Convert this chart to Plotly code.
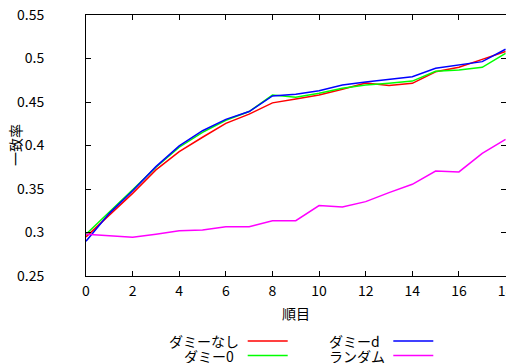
import plotly.graph_objects as go

x_vals = list(range(19))
names = ["ダミーなし", "ダミー0", "ダミーd", "ランダム"]
colors = ["#ff0000", "#00ff00", "#0000ff", "#ff00ff"]
s_none = [0.295, 0.320, 0.345, 0.372, 0.393, 0.4095, 0.4255, 0.436, 0.449, 0.4535,
          0.458, 0.4646, 0.4718, 0.4690, 0.4715, 0.4848, 0.4899, 0.499, 0.508]
s_zero = [0.298, 0.323, 0.349, 0.375, 0.398, 0.415, 0.429, 0.439, 0.458, 0.4554,
          0.460, 0.4657, 0.4695, 0.4715, 0.474, 0.4853, 0.4868, 0.4899, 0.506]
s_d = [0.290, 0.322, 0.348, 0.3757, 0.3995, 0.417, 0.430, 0.439, 0.457, 0.459,
       0.463, 0.4695, 0.473, 0.476, 0.479, 0.4887, 0.4925, 0.4964, 0.5106]
s_rand = [0.298, 0.296, 0.2945, 0.298, 0.302, 0.303, 0.3067, 0.3067, 0.3136, 0.3136,
          0.331, 0.3294, 0.3355, 0.3458, 0.3554, 0.3707, 0.3696, 0.391, 0.407]
series = [s_none, s_zero, s_d, s_rand]
x_title = "順目"
y_title = "一致率"

W, H = 506, 363
L, R, T, B = 86, 0, 15, 87
PW, PH = W - L - R, H - T - B
FONT = "Noto Sans CJK JP"

def px(xp):
    return (xp - L) / PW

def py(yp):
    return (H - B - yp) / PH

fig = go.Figure()
for name, col, ys in zip(names, colors, series):
    fig.add_trace(go.Scatter(x=x_vals, y=ys, mode="lines", name=name,
                             line=dict(color=col, width=1.5), showlegend=False))

axis_common = dict(showgrid=False, zeroline=False, showline=True, linecolor="black",
                   linewidth=1, ticks="inside", ticklen=5, tickcolor="black",
                   mirror="allticks", automargin=False, ticklabeloverflow="allow",
                   tickfont=dict(family=FONT, size=14, color="black"))
fig.update_xaxes(range=[0, 18.02], dtick=2, tick0=0, ticklabelstandoff=2, **axis_common)
fig.update_yaxes(range=[0.25, 0.55], dtick=0.05, tick0=0.25, ticklabelstandoff=38,
                 **axis_common)

ann = [
    dict(text=x_title, x=px(295.5), y=py(313), xanchor="center", yanchor="middle"),
    dict(text=y_title, x=px(15), y=py(145), xanchor="center", yanchor="middle",
         textangle=-90),
]
# legend (gnuplot style: text then sample line)
leg = [
    (names[0], colors[0], 166.7, 247.7, 341),
    (names[1], colors[1], 181.7, 247.7, 355.5),
    (names[2], colors[2], 326.7, 393.3, 341),
    (names[3], colors[3], 326.7, 393.3, 355.5),
]
shapes = []
for name, col, tx, lx, ly in leg:
    ann.append(dict(text=name, x=px(tx), y=py(ly), xanchor="left", yanchor="middle"))
    shapes.append(dict(type="line", xref="paper", yref="paper", x0=px(lx), x1=px(lx + 40),
                       y0=py(ly), y1=py(ly), line=dict(color=col, width=1.5)))
for a in ann:
    a.update(xref="paper", yref="paper", showarrow=False,
             font=dict(family=FONT, size=14, color="black"))

fig.update_layout(width=W, height=H, margin=dict(l=L, r=R, t=T, b=B, autoexpand=False),
                  plot_bgcolor="white", paper_bgcolor="white",
                  annotations=ann, shapes=shapes, showlegend=False,
                  font=dict(family=FONT, size=14, color="black"))
fig.write_html("out.html", config={"displayModeBar": False},
               post_script="document.body.style.margin='0';document.body.style.overflow='hidden';")
